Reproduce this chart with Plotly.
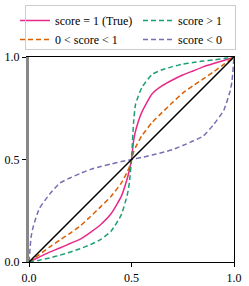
import plotly.graph_objects as go

# x grid for curves
x_vals = [0.0, 0.01, 0.02, 0.05, 0.1, 0.15, 0.2, 0.25, 0.3, 0.35, 0.4, 0.45, 0.48, 0.49, 0.5,
          0.51, 0.52, 0.55, 0.6, 0.65, 0.7, 0.75, 0.8, 0.85, 0.9, 0.95, 0.98, 0.99, 1.0]

y_true = [0.0, 0.005, 0.01, 0.024, 0.048, 0.068, 0.09, 0.112, 0.145, 0.183, 0.235, 0.32, 0.41, 0.45, 0.5,
          0.59, 0.64, 0.73, 0.82, 0.86, 0.888, 0.912, 0.932, 0.952, 0.968, 0.983, 0.993, 0.996, 1.0]
y_above = [0.0, 0.002, 0.004, 0.009, 0.02, 0.033, 0.048, 0.065, 0.085, 0.11, 0.15, 0.23, 0.33, 0.39, 0.5,
           0.68, 0.77, 0.85, 0.915, 0.938, 0.953, 0.965, 0.973, 0.98, 0.986, 0.992, 0.997, 0.998, 1.0]
y_between = [0.0, 0.007, 0.014, 0.036, 0.073, 0.107, 0.14, 0.176, 0.222, 0.27, 0.32, 0.385, 0.44, 0.465, 0.5,
             0.535, 0.56, 0.615, 0.68, 0.73, 0.778, 0.824, 0.86, 0.893, 0.927, 0.964, 0.986, 0.993, 1.0]
y_below = [0.0, 0.12, 0.17, 0.26, 0.33, 0.385, 0.41, 0.432, 0.452, 0.466, 0.478, 0.49, 0.496, 0.498, 0.5,
           0.502, 0.504, 0.51, 0.522, 0.534, 0.548, 0.568, 0.59, 0.615, 0.67, 0.74, 0.83, 0.88, 1.0]

diag_x = [0.0, 1.0]
diag_y = [0.0, 1.0]

tick_vals = [0.0, 0.5, 1.0]
tick_text = ["0.0", "0.5", "1.0"]

font_family = "Liberation Serif"
dash = "5px,3px"

fig = go.Figure()
fig.add_trace(go.Scatter(x=x_vals, y=y_true, mode="lines", name="score = 1 (True)", legend="legend",
                         line=dict(color="#e7298a", width=1.5, shape="spline", smoothing=0.5)))
fig.add_trace(go.Scatter(x=x_vals, y=y_between, mode="lines", name="0 < score < 1", legend="legend",
                         line=dict(color="#d95f02", width=1.5, dash=dash, shape="spline", smoothing=0.5)))
fig.add_trace(go.Scatter(x=x_vals, y=y_above, mode="lines", name="score > 1", legend="legend2",
                         line=dict(color="#1b9e77", width=1.5, dash=dash, shape="spline", smoothing=0.5)))
fig.add_trace(go.Scatter(x=x_vals, y=y_below, mode="lines", name="score < 0", legend="legend2",
                         line=dict(color="#7570b3", width=1.5, dash=dash, shape="spline", smoothing=0.5)))
fig.add_trace(go.Scatter(x=diag_x, y=diag_y, mode="lines", showlegend=False,
                         line=dict(color="black", width=1.5)))
fig.add_trace(go.Scatter(x=[None], y=[None], yaxis="y2", showlegend=False, hoverinfo="skip"))

legend_common = dict(
    orientation="v", xref="container", yref="container", yanchor="top", xanchor="left",
    bgcolor="rgba(0,0,0,0)", borderwidth=0, tracegroupgap=0, itemwidth=30,
    font=dict(family=font_family, size=12),
)

fig.update_layout(
    width=249, height=286,
    margin=dict(l=29, r=15, t=57, b=24, autoexpand=False),
    paper_bgcolor="white", plot_bgcolor="white",
    font=dict(family=font_family, size=12, color="black"),
    showlegend=True,
    legend=dict(legend_common, x=15 / 249, y=1 - 6 / 286),
    legend2=dict(legend_common, x=138 / 249, y=1 - 6 / 286),
    xaxis=dict(range=[0, 1], tickvals=tick_vals, ticktext=tick_text, automargin=False,
               showgrid=False, zeroline=False, showline=True, linecolor="black", linewidth=1.2,
               mirror=True, ticks="outside", ticklen=4, tickcolor="black"),
    yaxis=dict(range=[0, 1], tickvals=tick_vals, ticktext=tick_text, automargin=False,
               showgrid=False, zeroline=False, showline=True, linecolor="#888888", linewidth=3,
               ticks="outside", ticklen=4, tickcolor="black"),
    yaxis2=dict(range=[0, 1], overlaying="y", side="right", showline=True, linecolor="black",
                linewidth=1.2, showticklabels=False, ticks="", showgrid=False, zeroline=False,
                automargin=False),
    annotations=[dict(xref="paper", yref="paper", x=(130.5 - 29) / 205, y=(262 - 27.5) / 205,
                      xanchor="center", yanchor="middle", text=" ", showarrow=False,
                      width=209, height=43, bordercolor="#cccccc", borderwidth=1, borderpad=0,
                      bgcolor="rgba(0,0,0,0)")],
)

fig.write_html("out.html", config={"displayModeBar": False},
               post_script="document.body.style.margin='0px';")
